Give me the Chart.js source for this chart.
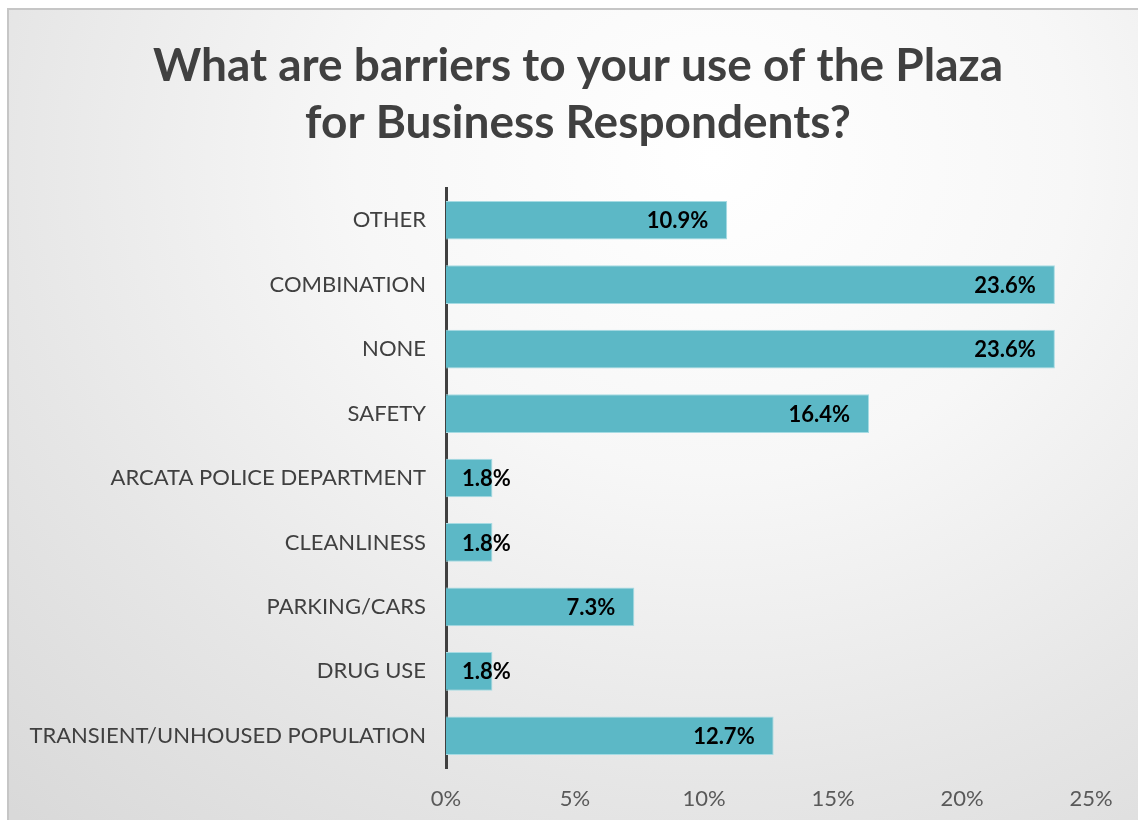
<!DOCTYPE html>
<html>
<head>
<meta charset="utf-8">
<script src="https://cdn.jsdelivr.net/npm/chart.js@4"></script>
<style>
  html, body { margin: 0; padding: 0; width: 1138px; height: 820px; overflow: hidden; background: #ffffff; }
  .frame {
    position: absolute; left: 7px; top: 8px; width: 1138px; height: 820px;
    border-left: 2px solid #c6c6c6; border-top: 2px solid #c6c6c6;
    box-sizing: border-box;
    background: radial-gradient(ellipse 90% 110% at 62% 18%, #ffffff 0%, #f7f7f7 35%, #e6e6e6 70%, #d9d9d9 100%);
  }
  canvas { position: absolute; left: 0; top: 0; }
</style>
</head>
<body>
<div class="frame">
  <canvas id="chart" width="1138" height="812"></canvas>
</div>
<script>
const categories = [
  'OTHER',
  'COMBINATION',
  'NONE',
  'SAFETY',
  'ARCATA POLICE DEPARTMENT',
  'CLEANLINESS',
  'PARKING/CARS',
  'DRUG USE',
  'TRANSIENT/UNHOUSED POPULATION',
];
const shares = [10.9, 23.6, 23.6, 16.4, 1.8, 1.8, 7.3, 1.8, 12.7];
const xTicks = [0, 5, 10, 15, 20, 25];
const titleLines = ['What are barriers to your use of the Plaza', 'for Business Respondents?'];

const fontFamily = 'Lato, "Open Sans", sans-serif';

// labels sit inside the bar end, pushed out when the bar is too short
const valueLabels = {
  id: 'valueLabels',
  afterDatasetsDraw(chart) {
    const ctx = chart.ctx;
    const meta = chart.getDatasetMeta(0);
    ctx.save();
    ctx.font = 'bold 22px ' + fontFamily;
    ctx.fillStyle = '#000000';
    ctx.textAlign = 'right';
    ctx.textBaseline = 'middle';
    meta.data.forEach((bar, i) => {
      const txt = shares[i].toFixed(1) + '%';
      const w = ctx.measureText(txt).width;
      const x = Math.max(bar.x - 19, bar.base + 16 + w);
      ctx.fillText(txt, x, bar.y + 1);
    });
    ctx.restore();
  },
};

const ctx = document.querySelector('#chart').getContext('2d');
const chart = new Chart(ctx, {
  type: 'bar',
  data: {
    labels: categories,
    datasets: [
      {
        data: shares,
        backgroundColor: '#5cb8c6',
        borderColor: '#a6dbe3',
        borderWidth: 1,
        barPercentage: 0.6,
        categoryPercentage: 1,
      },
    ],
  },
  options: {
    indexAxis: 'y',
    responsive: false,
    animation: false,
    layout: { padding: 0 },
    plugins: {
      legend: { display: false },
      tooltip: { enabled: false },
      title: {
        display: true,
        text: titleLines,
        color: '#404040',
        font: { family: fontFamily, size: 46, weight: 'bold', lineHeight: '57px' },
        padding: { top: 28, bottom: 36 },
      },
    },
    scales: {
      x: {
        min: 0,
        max: 25,
        afterBuildTicks: (scale) => {
          scale.ticks = xTicks.map((v) => ({ value: v }));
        },
        afterFit: (scale) => {
          scale.height = 54;
        },
        grid: { display: false, drawTicks: false },
        border: { display: false },
        ticks: {
          color: '#595959',
          padding: 18,
          font: { family: fontFamily, size: 22 },
          callback: (v) => v + '%',
        },
      },
      y: {
        afterFit: (scale) => {
          scale.width = 437;
        },
        grid: { display: false, drawTicks: false },
        border: { display: true, color: '#404040', width: 3 },
        ticks: {
          color: '#404040',
          padding: 20,
          font: { family: fontFamily, size: 22 },
        },
      },
      // empty strip on the right so the title stays centred on the frame
      spacer: {
        type: 'linear',
        axis: 'y',
        position: 'right',
        afterFit: (scale) => {
          scale.width = 56;
        },
        grid: { display: false, drawTicks: false },
        border: { display: false },
        ticks: { display: false },
      },
    },
  },
  plugins: [valueLabels],
});
</script>
</body>
</html>
